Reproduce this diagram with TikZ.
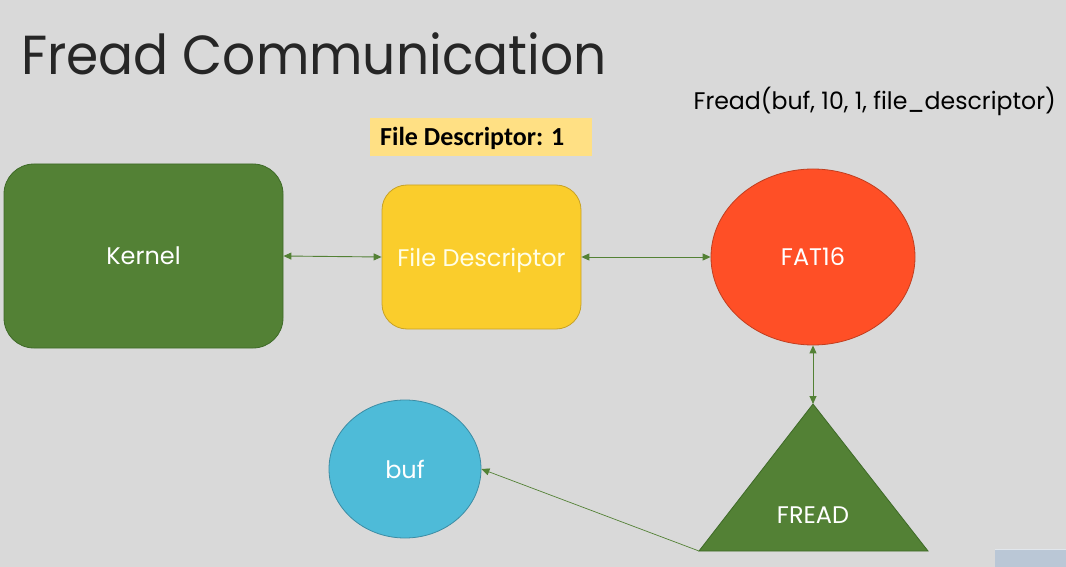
\documentclass[tikz,border=0pt]{standalone}
\usepackage{fontspec}
\setmainfont{Poppins}
\newfontfamily\calfont{Carlito}
\usetikzlibrary{shapes.geometric,arrows.meta}
\definecolor{bg}{HTML}{D9D9D9}
\definecolor{grn}{HTML}{538135}
\definecolor{grnd}{HTML}{3E6A27}
\definecolor{yel}{HTML}{FACD2C}
\definecolor{yeld}{HTML}{C8A226}
\definecolor{lyel}{HTML}{FFE084}
\definecolor{org}{HTML}{FF4F26}
\definecolor{orgd}{HTML}{C13E1F}
\definecolor{sky}{HTML}{4EBBD8}
\definecolor{skyd}{HTML}{3C8CA4}
\definecolor{txt}{HTML}{262626}
\tikzset{
  box/.style={draw, line width=0.8pt, rounded corners=#1, inner sep=0pt},
  oval/.style={ellipse, draw, line width=0.8pt, inner sep=0pt},
  lbl/.style={font=\fontsize{24}{28}\selectfont, text=white},
  link/.style={draw=grn, line width=0.9pt, {Triangle[length=8pt,width=7pt]}-{Triangle[length=8pt,width=7pt]}},
  link1/.style={draw=grn, line width=0.7pt, -{Triangle[length=8pt,width=7pt]}}
}
\begin{document}
\begin{tikzpicture}[x=1pt,y=-1pt]
\fill[bg] (0,0) rectangle (1066,567);
\useasboundingbox (0,0) rectangle (1066,567);
% title
\node[anchor=base west, inner sep=0pt, text=txt, font=\fontsize{55}{60}\selectfont] (title) at (21,75) {\scalebox{0.943}[1]{Fread Communication}};
\node[anchor=base east, inner sep=0pt, text=black, font=\fontsize{24}{28}\selectfont] (call) at (1056,110) {\scalebox{0.984}[1]{Fread(buf, 10, 1, file\_descriptor)}};
% highlighted label
\node[fill=lyel, minimum width=222pt, minimum height=38pt, inner sep=0pt] (fdlabel) at (481,137) {};
\node[anchor=base west, inner sep=0pt, font=\calfont\bfseries\fontsize{26}{30}\selectfont] (fdtext) at (380,146) {File Descriptor: 1};
% shapes
\node[box=30pt, fill=grn, draw=grnd, minimum width=279pt, minimum height=184pt, lbl, text depth=0pt] (kernel) at (143.5,256) {Kernel};
\node[box=25pt, fill=yel, draw=yeld, minimum width=199pt, minimum height=144pt, lbl, text=white!90!yellow, text depth=0pt] (fd) at (481.5,257) {File Descriptor};
\node[oval, fill=org, draw=orgd, minimum width=204pt, minimum height=176pt, lbl] (fat) at (813,257) {FAT16};
\node[oval, fill=sky, draw=skyd, minimum width=152pt, minimum height=138pt, lbl] (buf) at (405,469) {buf};
% triangle
\coordinate (apex) at (813,404);
\coordinate (bl) at (699,551);
\coordinate (br) at (928,551);
\fill[grn, draw=grnd, line width=0.8pt, line join=miter] (apex) -- (br) -- (bl) -- cycle;
\node[lbl, inner sep=0pt] (fread) at (813,515) {FREAD};
% connectors
\draw[link] (kernel.east) -- (fd.west);
\draw[link] (fd.east) -- (fat.west);
\draw[link] (fat.south) -- (apex);
\draw[link1] (bl) -- (buf.east);
% corner thumbnail
\fill[color={rgb,255:red,186;green,199;blue,214}] (995,549) rectangle (1066,567);
\draw[color={rgb,255:red,225;green,230;blue,236}, line width=1pt] (995,549.5) -- (1066,549.5);
\end{tikzpicture}
\end{document}
